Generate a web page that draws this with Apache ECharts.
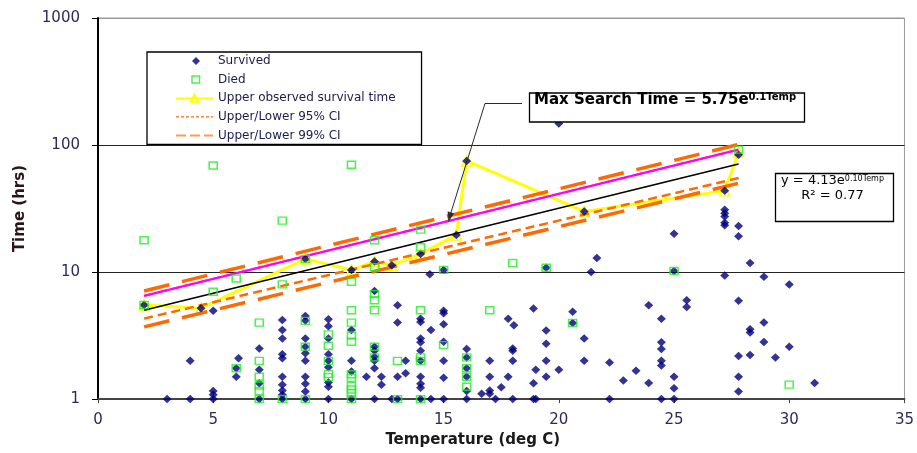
<!DOCTYPE html>
<html><head><meta charset="utf-8">
<script src="https://cdn.jsdelivr.net/npm/echarts@6/dist/echarts.min.js"></script>
<style>html,body{margin:0;padding:0;background:#fff}#c{width:917px;height:453px}</style>
</head><body><div id="c"></div>
<script>
const FONT = 'DejaVu Sans';

// x axis: Temperature (deg C), y axis (log): Time (hrs)
const xMin = 0, xMax = 35, xStep = 5;
const yMin = 1, yMax = 1000;

// Survived: [temperature, hours]
const survived = [
  [2,5.5],[3,1],[4,1],[4,2],[4.47,5.2],
  [5,4.95],[5,1.16],[5,1.08],[5,1],
  [6.1,2.1],[6,1.75],[6,1.5],
  [7,2.5],[7,1.7],[7,1.33],[7,1],
  [8,4.2],[8,3.5],[8,3.0],[8,2.25],[8,2.1],[8,1.5],[8,1.3],[8,1.17],[8,1.08],[8,1],
  [9,12.7],[9,4.5],[9,4.15],[9,3.0],[9,2.58],[9,2.3],[9,2.0],[9,1.5],[9,1.32],[9,1.15],[9,1],
  [10,4.25],[10,3.75],[10,3.0],[10,2.25],[10,2.0],[10,1.78],[10,1.35],[10,1.25],[10,1],
  [11,10.4],[11,3.5],[11,2.0],[11,1.65],[11,1],
  [11.65,1.5],
  [12,12.1],[12,7.1],[12,2.58],[12,2.4],[12,2.15],[12,2.0],[12,1.75],[12,1],
  [12.3,1.5],[12.3,1.3],
  [12.75,11.3],[12.75,1],
  [13,5.47],[13,4.0],[13,1.5],[13,1],[13.35,2.0],[13.35,1.6],
  [14,13.9],[14,4.3],[14,4.05],[14,3.0],[14,2.8],[14,2.4],[14,2.0],[14,1.5],[14,1.32],[14,1.23],[14,1],
  [14.4,9.6],[14.45,3.5],[14.45,1],
  [15,10.4],[15,4.95],[15,4.75],[15,3.88],[15,2.83],[15,2.0],[15,1.47],[15,1],
  [15.55,19.6],
  [16,75],[16,2.48],[16,2.13],[16,1.75],[16,1.5],[16,1.16],[16,1],
  [16.65,1.1],
  [17,2.0],[17,1.5],[17,1.17],[17,1.1],[17.25,1],[17.5,1.24],
  [17.8,4.3],[17.8,1.5],
  [18.05,3.82],[18,2.5],[18,2.4],[18,2.0],[18,1],
  [18.9,5.16],[18.9,1.33],[18.9,1],[19,1],[19,1.7],
  [19.45,10.8],[19.45,3.47],[19.45,2.73],[19.45,2.0],[19.45,1.5],
  [20,148],[20,1.7],
  [20.6,4.86],[20.6,3.98],
  [21.1,30],[21.1,3.0],[21.1,2.0],
  [21.4,10],[21.65,12.9],
  [22.2,1.94],[22.2,1],
  [22.8,1.4],[23.35,1.67],[23.9,5.47],[23.9,1.34],
  [24.45,4.3],[24.45,2.8],[24.45,2.48],[24.45,2.0],[24.45,1.84],[24.45,1],
  [25,20],[25,10.2],[25,1.5],[25,1.22],[25,1],
  [25.55,6.0],[25.55,5.3],
  [27.2,43.6],[27.2,31],[27.2,29],[27.2,27.4],[27.2,24.4],[27.2,23.4],[27.2,9.4],
  [27.8,84],[27.8,23],[27.8,19.1],[27.8,5.95],[27.8,2.18],[27.8,1.5],[27.8,1.15],
  [28.3,11.8],[28.3,3.55],[28.3,3.35],[28.3,2.22],
  [28.9,9.2],[28.9,4.0],[28.9,2.82],
  [29.4,2.13],
  [30,8.0],[30,2.58],
  [31.1,1.34]
];

// Died: [temperature, hours]
const died = [
  [2,17.8],[2,5.5],[5,69],[5,7],[6,8.9],[6,1.75],
  [7,4.0],[7,2.0],[7,1.5],[7,1.28],[7,1.16],[7,1],
  [8,25.4],[8,8.0],[8,1],
  [9,12.7],[9,4.13],[9,2.58],[9,1],
  [10,3.23],[10,2.63],[10,2.0],[10,1.58],[10,1.49],
  [11,70],[11,8.4],[11,5.0],[11,4.0],[11,3.17],[11,2.83],[11,1.57],[11,1.47],[11,1.27],[11,1.19],[11,1.11],[11,1],
  [12,17.8],[12,10.9],[12,6.7],[12,6.0],[12,5.0],[12,2.58],[12,2.13],
  [13,2.0],[13,1],
  [14,21.6],[14,15.7],[14,5.0],[14,2.13],[14,2.0],[14,1],
  [15,10.4],[15,2.66],
  [16,2.13],[16,1.75],[16,1.5],[16,1.25],
  [17,5.0],[18,11.8],[19.45,10.8],[20.6,3.98],[25,10.2],[27.8,92],[30,1.3]
];

// Upper observed survival time
const upperObserved = [
  [2,5.5],[4.47,5.2],[9,12.7],[11,10.4],[12,12.1],[12.75,11.3],[14,13.9],
  [15.55,19.6],[16,75],[21.1,30],[27.2,43.6],[27.8,88]
];

// Straight (log-scale) lines, read at their end points
const lineTemps = [2, 27.8];
const trendHours = [5.0, 71];      // y = 4.13e^0.10Temp
const maxSearchHours = [6.5, 92];  // 5.75e^0.1Temp
const ci95UpperHours = [6.5, 92];
const ci95LowerHours = [4.3, 55];
const ci99UpperHours = [7.1, 101];
const ci99LowerHours = [3.7, 50];

const pair = (hrs) => lineTemps.map((t, i) => [t, hrs[i]]);
const ORANGE = '#FF6A00';
const NOSYM = {color: 'rgba(0,0,0,0)', borderColor: 'rgba(0,0,0,0)', borderWidth: 0};
// legend icons drawn inside a 37x9 frame so they keep their size
const ICON_DIAMOND = 'path://M0,0M37,9M20,0.5L24,4.5L20,8.5L16,4.5Z';
const ICON_SQUARE = 'path://M0,0M37,9M16,1L23.5,1L23.5,8L16,8Z';

const chart = echarts.init(document.getElementById('c'), null, {renderer: 'canvas'});

const lineBase = (name, hrs, color, width, type, z) => ({
  name, type: 'line', data: pair(hrs), symbol: 'none', showSymbol: false, silent: true,
  lineStyle: {color, width, type}, itemStyle: {color}, z, animation: false
});

chart.setOption({
  animation: false,
  backgroundColor: '#fff',
  textStyle: {fontFamily: FONT},
  grid: {left: 98, right: 12, top: 18, bottom: 52, show: true, borderColor: '#9a9a9a', borderWidth: 1, backgroundColor: 'transparent'},
  xAxis: {
    type: 'value', min: xMin, max: xMax, interval: xStep,
    name: 'Temperature (deg C)', nameLocation: 'middle', nameGap: 32,
    nameTextStyle: {fontFamily: FONT, fontSize: 15, fontWeight: 'bold', color: '#1a1a1a', padding: [0, 57, 0, 0]},
    axisLine: {show: true, onZero: false, lineStyle: {color: '#444', width: 2}},
    axisTick: {show: true, inside: false, length: 4, lineStyle: {color: '#444', width: 1}},
    axisLabel: {fontFamily: FONT, fontSize: 15, color: '#2e2a5e', margin: 14},
    splitLine: {show: false}
  },
  yAxis: {
    type: 'log', logBase: 10, min: yMin, max: yMax,
    name: 'Time (hrs)', nameLocation: 'middle', nameGap: 70,
    nameTextStyle: {fontFamily: FONT, fontSize: 15, fontWeight: 'bold', color: '#2a1414'},
    axisLine: {show: true, onZero: false, lineStyle: {color: '#000', width: 2}},
    axisTick: {show: true, inside: false, length: 6, lineStyle: {color: '#000', width: 1}},
    axisLabel: {fontFamily: FONT, fontSize: 15, color: '#2e2a5e', margin: 18, formatter: (v) => String(Math.round(v))},
    splitLine: {show: true, lineStyle: {color: ['#222','#222','#222','#9a9a9a'], width: 1}}
  },
  legend: {
    data: [
      {name: 'Survived', icon: ICON_DIAMOND, itemStyle: {color: '#00007a', borderWidth: 0}},
      {name: 'Died', icon: ICON_SQUARE, itemStyle: {color: 'rgba(0,0,0,0)', borderColor: '#22ee22', borderWidth: 1.5}},
      {name: 'Upper observed survival time', lineStyle: {width: 1.5, color: '#FFFF00'}},
      {name: 'Upper/Lower 95% CI', itemStyle: NOSYM, lineStyle: {width: 1.2, type: [3, 2], color: ORANGE}},
      {name: 'Upper/Lower 99% CI', itemStyle: NOSYM, lineStyle: {width: 2, type: [10, 4], color: '#FF9A50'}}
    ],
    left: 147, top: 52, orient: 'vertical', padding: [3, 26, 3, 28],
    itemGap: 6.6, itemWidth: 37, itemHeight: 9,
    borderColor: '#000', borderWidth: 1.3, backgroundColor: '#fff', borderRadius: 0,
    selectedMode: false,
    textStyle: {fontFamily: FONT, fontSize: 12, color: '#1b1b4b'}
  },
  series: [
    {
      name: 'Upper observed survival time', type: 'line', data: upperObserved,
      symbol: 'triangle', symbolSize: 10, showSymbol: true, silent: true,
      lineStyle: {color: '#FFFF00', width: 3},
      itemStyle: {color: 'rgba(255,255,255,0)', borderColor: '#FFFF00', borderWidth: 1.5},
      z: 2, animation: false
    },
    lineBase('Upper/Lower 95% CI', ci95UpperHours, ORANGE, 2, [9, 5], 3),
    lineBase('Upper/Lower 95% CI', ci95LowerHours, ORANGE, 2.5, [9, 5], 3),
    lineBase('Upper/Lower 99% CI', ci99UpperHours, ORANGE, 3.5, [26, 13], 3),
    lineBase('Upper/Lower 99% CI', ci99LowerHours, ORANGE, 3.5, [26, 13], 3),
    lineBase('Trend', trendHours, '#000000', 1.6, 'solid', 4),
    lineBase('Max Search Time', maxSearchHours, '#FF00FF', 2.3, 'solid', 4),
    {
      name: 'Survived', type: 'scatter', data: survived, symbol: 'diamond', symbolSize: [9, 8.5],
      itemStyle: {color: '#00007a'}, silent: true, z: 5, animation: false
    },
    {
      name: 'Died', type: 'scatter', data: died, symbol: 'rect', symbolSize: [8, 7],
      itemStyle: {color: 'rgba(0,0,0,0)', borderColor: '#22ee22', borderWidth: 1.5}, silent: true, z: 6, animation: false
    }
  ],
  graphic: [
    {type: 'polyline', z: 100, shape: {points: [[522, 103.5], [485, 103.5], [449.4, 217.5]]},
     style: {stroke: '#2a2a2a', lineWidth: 1, fill: null}},
    {type: 'polygon', z: 100, shape: {points: [[448.5, 221.5], [453.7, 213.5], [447.9, 211.7]]},
     style: {fill: '#2a2a2a', stroke: '#2a2a2a', lineWidth: 0.5}},
    {type: 'rect', z: 100, shape: {x: 529.5, y: 93, width: 275, height: 29},
     style: {fill: '#fff', stroke: '#000', lineWidth: 1.3}},
    {type: 'text', z: 101, x: 534, y: 92.4,
     style: {
       text: '{a|Max Search Time = 5.75e}{b|0.1Temp}',
       rich: {
         a: {fontFamily: FONT, fontSize: 15, fontWeight: 'bold', color: '#000', lineHeight: 20, verticalAlign: 'top'},
         b: {fontFamily: FONT, fontSize: 10, fontWeight: 'bold', color: '#000', lineHeight: 14, verticalAlign: 'top'}
       }
     }},
    {type: 'rect', z: 100, shape: {x: 775.5, y: 173.5, width: 118, height: 48},
     style: {fill: '#fff', stroke: '#000', lineWidth: 1.3}},
    {type: 'text', z: 101, x: 832.5, y: 174.5,
     style: {
       text: '{a|y = 4.13e}{b|0.10Temp}\n{a|R² = 0.77}',
       align: 'center', verticalAlign: 'top',
       rich: {
         a: {fontFamily: FONT, fontSize: 13, color: '#1b1b3b', lineHeight: 14.3, verticalAlign: 'top'},
         b: {fontFamily: FONT, fontSize: 8, color: '#1b1b3b', lineHeight: 10, verticalAlign: 'top'}
       }
     }}
  ]
});
</script>
</body></html>
